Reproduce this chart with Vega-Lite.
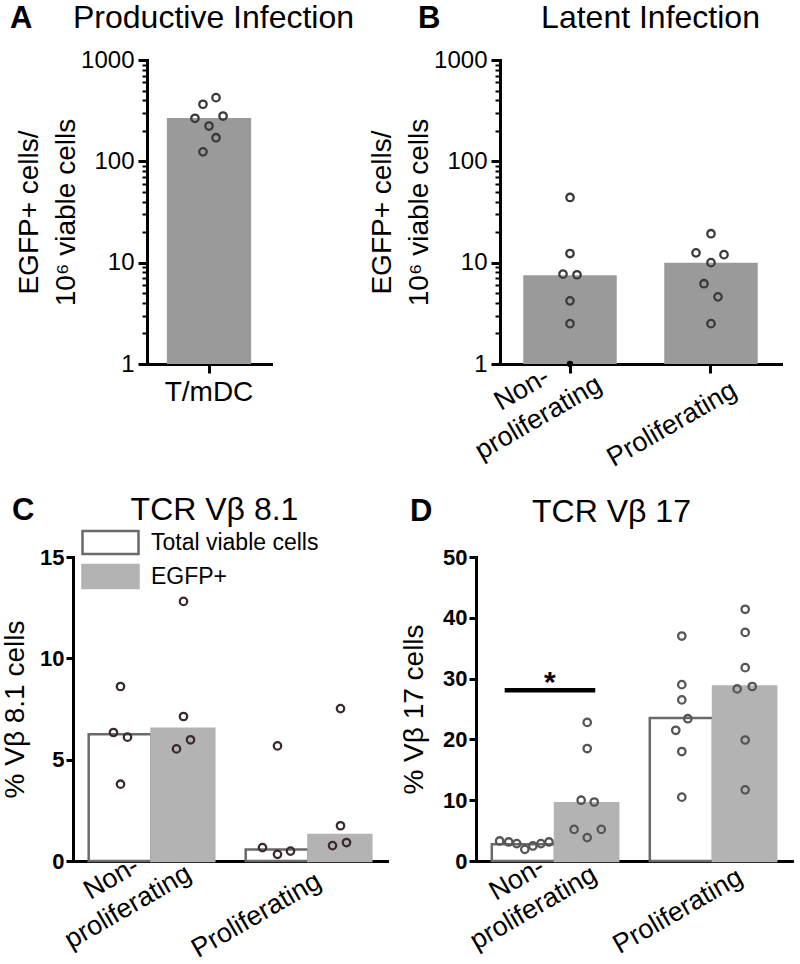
{
  "$schema": "https://vega.github.io/schema/vega-lite/v6.json",
  "padding": {"left": 1, "top": 1, "right": 5, "bottom": 5},
  "background": "white",
  "config": {
    "font": "Liberation Sans",
    "view": {"stroke": null},
    "axis": {"domainColor": "black", "domainWidth": 3, "domainCap": "square", "tickColor": "black", "tickWidth": 3, "labelColor": "black", "titleColor": "black", "grid": false, "labelFont": "Liberation Sans", "titleFont": "Liberation Sans", "titleFontWeight": "normal"},
    "title": {"font": "Liberation Sans", "color": "black"},
    "legend": {"labelFont": "Liberation Sans", "labelColor": "black"}
  },
  "datasets": {
    "aBar": [{"group": "T/mDC", "value": 267}],
    "aPts": [
      {"group": "T/mDC", "value": 266, "jitter": -14},
      {"group": "T/mDC", "value": 366, "jitter": -6},
      {"group": "T/mDC", "value": 425, "jitter": 7},
      {"group": "T/mDC", "value": 280, "jitter": 14},
      {"group": "T/mDC", "value": 223, "jitter": 0},
      {"group": "T/mDC", "value": 171, "jitter": 7},
      {"group": "T/mDC", "value": 124, "jitter": -6}
    ],
    "bBar": [{"group": "Non-proliferating", "value": 7.5}, {"group": "Proliferating", "value": 10}],
    "bPts": [
      {"group": "Non-proliferating", "value": 44, "jitter": 0},
      {"group": "Non-proliferating", "value": 12.3, "jitter": 0},
      {"group": "Non-proliferating", "value": 7.7, "jitter": -7},
      {"group": "Non-proliferating", "value": 7.6, "jitter": 7},
      {"group": "Non-proliferating", "value": 4.2, "jitter": 0},
      {"group": "Non-proliferating", "value": 2.5, "jitter": 0},
      {"group": "Proliferating", "value": 19.3, "jitter": 0},
      {"group": "Proliferating", "value": 12.5, "jitter": -15},
      {"group": "Proliferating", "value": 12, "jitter": 13},
      {"group": "Proliferating", "value": 10, "jitter": 0},
      {"group": "Proliferating", "value": 6.2, "jitter": -7},
      {"group": "Proliferating", "value": 4.6, "jitter": 7},
      {"group": "Proliferating", "value": 2.5, "jitter": 0}
    ],
    "bZero": [{"group": "Non-proliferating", "value": 1, "jitter": 0}],
    "cBar": [
      {"group": "Non-proliferating", "series": "Total viable cells", "value": 6.25},
      {"group": "Non-proliferating", "series": "EGFP+", "value": 6.52},
      {"group": "Proliferating", "series": "Total viable cells", "value": 0.57},
      {"group": "Proliferating", "series": "EGFP+", "value": 1.28}
    ],
    "cPts": [
      {"group": "Non-proliferating", "series": "Total viable cells", "value": 8.61, "pos": -31},
      {"group": "Non-proliferating", "series": "Total viable cells", "value": 6.34, "pos": -38},
      {"group": "Non-proliferating", "series": "Total viable cells", "value": 6.11, "pos": -24},
      {"group": "Non-proliferating", "series": "Total viable cells", "value": 3.79, "pos": -31},
      {"group": "Non-proliferating", "series": "EGFP+", "value": 12.81, "pos": 32},
      {"group": "Non-proliferating", "series": "EGFP+", "value": 7.13, "pos": 32},
      {"group": "Non-proliferating", "series": "EGFP+", "value": 5.98, "pos": 39},
      {"group": "Non-proliferating", "series": "EGFP+", "value": 5.53, "pos": 25},
      {"group": "Proliferating", "series": "Total viable cells", "value": 5.68, "pos": -31},
      {"group": "Proliferating", "series": "Total viable cells", "value": 0.66, "pos": -46},
      {"group": "Proliferating", "series": "Total viable cells", "value": 0.33, "pos": -31},
      {"group": "Proliferating", "series": "Total viable cells", "value": 0.49, "pos": -18},
      {"group": "Proliferating", "series": "EGFP+", "value": 7.52, "pos": 32},
      {"group": "Proliferating", "series": "EGFP+", "value": 1.74, "pos": 32},
      {"group": "Proliferating", "series": "EGFP+", "value": 0.76, "pos": 24},
      {"group": "Proliferating", "series": "EGFP+", "value": 0.91, "pos": 38}
    ],
    "dBar": [
      {"group": "Non-proliferating", "series": "Total viable cells", "value": 2.75},
      {"group": "Non-proliferating", "series": "EGFP+", "value": 9.5},
      {"group": "Proliferating", "series": "Total viable cells", "value": 23.5},
      {"group": "Proliferating", "series": "EGFP+", "value": 28.7}
    ],
    "dPts": [
      {"group": "Non-proliferating", "series": "Total viable cells", "value": 3.3, "pos": -55},
      {"group": "Non-proliferating", "series": "Total viable cells", "value": 3.13, "pos": -46},
      {"group": "Non-proliferating", "series": "Total viable cells", "value": 2.86, "pos": -38},
      {"group": "Non-proliferating", "series": "Total viable cells", "value": 1.92, "pos": -30},
      {"group": "Non-proliferating", "series": "Total viable cells", "value": 2.47, "pos": -22},
      {"group": "Non-proliferating", "series": "Total viable cells", "value": 2.86, "pos": -14},
      {"group": "Non-proliferating", "series": "Total viable cells", "value": 3.13, "pos": -6},
      {"group": "Non-proliferating", "series": "EGFP+", "value": 22.8, "pos": 32},
      {"group": "Non-proliferating", "series": "EGFP+", "value": 18.5, "pos": 32},
      {"group": "Non-proliferating", "series": "EGFP+", "value": 10.0, "pos": 26},
      {"group": "Non-proliferating", "series": "EGFP+", "value": 9.7, "pos": 39},
      {"group": "Non-proliferating", "series": "EGFP+", "value": 5.2, "pos": 19},
      {"group": "Non-proliferating", "series": "EGFP+", "value": 5.2, "pos": 46},
      {"group": "Non-proliferating", "series": "EGFP+", "value": 3.85, "pos": 32},
      {"group": "Proliferating", "series": "Total viable cells", "value": 37.0, "pos": -31},
      {"group": "Proliferating", "series": "Total viable cells", "value": 29.0, "pos": -31},
      {"group": "Proliferating", "series": "Total viable cells", "value": 26.5, "pos": -31},
      {"group": "Proliferating", "series": "Total viable cells", "value": 23.4, "pos": -25},
      {"group": "Proliferating", "series": "Total viable cells", "value": 21.5, "pos": -37},
      {"group": "Proliferating", "series": "Total viable cells", "value": 18.0, "pos": -31},
      {"group": "Proliferating", "series": "Total viable cells", "value": 10.5, "pos": -31},
      {"group": "Proliferating", "series": "EGFP+", "value": 41.4, "pos": 32},
      {"group": "Proliferating", "series": "EGFP+", "value": 37.6, "pos": 32},
      {"group": "Proliferating", "series": "EGFP+", "value": 31.8, "pos": 32},
      {"group": "Proliferating", "series": "EGFP+", "value": 28.3, "pos": 24},
      {"group": "Proliferating", "series": "EGFP+", "value": 28.7, "pos": 39},
      {"group": "Proliferating", "series": "EGFP+", "value": 19.9, "pos": 32},
      {"group": "Proliferating", "series": "EGFP+", "value": 11.7, "pos": 32}
    ],
    "dSig": [
      {"group": "Non-proliferating", "pos": -50, "value": 28.1},
      {"group": "Non-proliferating", "pos": 40, "value": 28.1}
    ],
    "dStar": [{"group": "Non-proliferating", "pos": -5, "value": 29.2, "label": "*"}]
  },
  "resolve": {"scale": {"fill": "independent", "stroke": "independent"}},
  "vconcat": [
    {
      "spacing": 14,
      "hconcat": [
        {
          "width": 198, "height": 304,
          "title": {"text": "A", "anchor": "start", "frame": "group", "dx": -63, "dy": 58, "offset": 0, "baseline": "alphabetic", "fontSize": 31, "fontWeight": "bold"},
          "layer": [
            {
              "data": {"name": "aBar"},
              "mark": {"type": "bar", "color": "#9a9a9a"},
              "encoding": {
                "x": {"field": "group", "type": "nominal", "scale": {"range": [74, 198], "paddingInner": 0.32, "paddingOuter": 0.16},
                  "axis": {"title": null, "labelAngle": 0, "labelFontSize": 28, "tickSize": 9, "labelPadding": 5}},
                "y": {"field": "value", "type": "quantitative", "scale": {"type": "log", "domain": [1, 1000], "nice": false},
                  "axis": {"offset": -74, "values": [1, 10, 100, 1000], "format": "d", "tickSize": 9, "labelFontSize": 24, "labelPadding": 4, "title": ["EGFP+ cells/", "10⁶ viable cells"], "titleFontSize": 28, "titleLineHeight": 37, "titlePadding": 0}},
                "y2": {"datum": 1}
              }
            },
            {
              "data": {"name": "aPts"},
              "mark": {"type": "point", "filled": false, "stroke": "#3a3a3a", "strokeWidth": 2.3, "size": 55, "opacity": 1},
              "encoding": {
                "x": {"field": "group", "type": "nominal",
                  "axis": {"orient": "top", "title": "Productive Infection", "labels": false, "ticks": false, "domain": false, "titleFontSize": 32, "titleX": 140, "titleY": -33, "titleBaseline": "alphabetic", "titleAlign": "center"}},
                "xOffset": {"field": "jitter", "type": "quantitative", "scale": {"domain": [-42, 42]}},
                "y": {"field": "value", "type": "quantitative",
                  "axis": {"orient": "left", "offset": -74, "values": [2, 3, 4, 5, 6, 7, 8, 9, 20, 30, 40, 50, 60, 70, 80, 90, 200, 300, 400, 500, 600, 700, 800, 900], "labels": false, "domain": false, "tickSize": 5, "tickWidth": 2, "title": null}}
              }
            }
          ],
          "resolve": {"scale": {"xOffset": "independent"}, "axis": {"x": "independent", "y": "independent"}}
        },
        {
          "width": 281, "height": 304,
          "title": {"text": "B", "anchor": "start", "frame": "group", "dx": -82, "dy": 58, "offset": 0, "baseline": "alphabetic", "fontSize": 31, "fontWeight": "bold"},
          "layer": [
            {
              "data": {"name": "bBar"},
              "mark": {"type": "bar", "color": "#9a9a9a"},
              "encoding": {
                "x": {"field": "group", "type": "nominal", "scale": {"domain": ["Non-proliferating", "Proliferating"], "paddingInner": 0.337, "paddingOuter": 0.165},
                  "axis": {"title": null, "labelAngle": -30, "labelAlign": "center", "labelBaseline": "bottom", "labelFontSize": 27, "labelLineHeight": 33, "tickSize": 9,
                    "labelPadding": {"condition": {"test": "datum.value == 'Proliferating'", "value": 63}, "value": 28},
                    "labelOffset": {"condition": {"test": "datum.value == 'Proliferating'", "value": -32}, "value": -41},
                    "labelExpr": "datum.value == 'Non-proliferating' ? ['Non-    ', 'proliferating'] : datum.value"}},
                "y": {"field": "value", "type": "quantitative", "scale": {"type": "log", "domain": [1, 1000], "nice": false},
                  "axis": {"values": [1, 10, 100, 1000], "format": "d", "tickSize": 9, "labelFontSize": 24, "labelPadding": 4, "title": ["EGFP+ cells/", "10⁶ viable cells"], "titleFontSize": 28, "titleLineHeight": 37, "titlePadding": 0}},
                "y2": {"datum": 1}
              }
            },
            {
              "data": {"name": "bPts"},
              "mark": {"type": "point", "filled": false, "stroke": "#3a3a3a", "strokeWidth": 2.3, "size": 55, "opacity": 1},
              "encoding": {
                "x": {"field": "group", "type": "nominal",
                  "axis": {"orient": "top", "title": "Latent Infection", "labels": false, "ticks": false, "domain": false, "titleFontSize": 32, "titleX": 150, "titleY": -33, "titleBaseline": "alphabetic", "titleAlign": "center"}},
                "xOffset": {"field": "jitter", "type": "quantitative", "scale": {"domain": [-46.75, 46.75]}},
                "y": {"field": "value", "type": "quantitative",
                  "axis": {"orient": "left", "values": [2, 3, 4, 5, 6, 7, 8, 9, 20, 30, 40, 50, 60, 70, 80, 90, 200, 300, 400, 500, 600, 700, 800, 900], "labels": false, "domain": false, "tickSize": 5, "tickWidth": 2, "title": null}}
              }
            },
            {
              "data": {"name": "bZero"},
              "mark": {"type": "point", "filled": true, "color": "black", "size": 40, "opacity": 1},
              "encoding": {
                "x": {"field": "group", "type": "nominal", "axis": null},
                "xOffset": {"field": "jitter", "type": "quantitative", "scale": {"domain": [-46.75, 46.75]}},
                "y": {"field": "value", "type": "quantitative", "axis": null}
              }
            }
          ],
          "resolve": {"scale": {"xOffset": "independent"}, "axis": {"x": "independent", "y": "independent"}}
        }
      ]
    },
    {
      "spacing": 13,
      "resolve": {"scale": {"fill": "independent", "stroke": "independent"}},
      "hconcat": [
        {
          "width": 314, "height": 304,
          "title": {"text": "C", "anchor": "start", "frame": "group", "dx": -61, "dy": 58, "offset": 0, "baseline": "alphabetic", "fontSize": 31, "fontWeight": "bold"},
          "layer": [
            {
              "data": {"name": "cBar"},
              "mark": {"type": "bar", "strokeWidth": 2.5},
              "encoding": {
                "x": {"field": "group", "type": "nominal", "scale": {"domain": ["Non-proliferating", "Proliferating"], "paddingInner": 0.2, "paddingOuter": 0.1},
                  "axis": {"title": null, "ticks": false, "labelAngle": -30, "labelAlign": "center", "labelBaseline": "bottom", "labelFontSize": 27, "labelLineHeight": 33,
                    "labelPadding": {"condition": {"test": "datum.value == 'Proliferating'", "value": 66}, "value": 29},
                    "labelOffset": {"condition": {"test": "datum.value == 'Proliferating'", "value": -45}, "value": -33},
                    "labelExpr": "datum.value == 'Non-proliferating' ? ['Non-        ', 'proliferating'] : datum.value"}},
                "xOffset": {"field": "series", "type": "nominal", "scale": {"domain": ["Total viable cells", "EGFP+"], "paddingInner": 0, "paddingOuter": 0}},
                "y": {"field": "value", "type": "quantitative", "scale": {"domain": [0, 15], "nice": false},
                  "axis": {"values": [0, 5, 10, 15], "tickSize": 7, "labelFontSize": 22, "labelFontWeight": "bold", "labelPadding": 2, "title": "% Vβ 8.1 cells", "titleFontSize": 28, "titlePadding": 10}},
                "fill": {"field": "series", "type": "nominal", "scale": {"domain": ["Total viable cells", "EGFP+"], "range": ["white", "#b3b3b3"]},
                  "legend": {"title": null, "orient": "none", "legendX": 22, "legendY": -30, "padding": 0, "symbolType": "M-2,-0.82L2,-0.82L2,0.82L-2,0.82Z", "symbolSize": 784, "symbolStrokeWidth": 2.5, "labelFontSize": 23, "labelOffset": 25, "labelLimit": 400, "rowPadding": 1,
                    "labelExpr": "datum.label == 'EGFP+' ? ' EGFP+' : datum.label"}},
                "stroke": {"field": "series", "type": "nominal", "scale": {"domain": ["Total viable cells", "EGFP+"], "range": ["#6a6a6a", "#b3b3b3"]}}
              }
            },
            {
              "data": {"name": "cPts"},
              "mark": {"type": "point", "filled": false, "stroke": "#3a2a2e", "strokeWidth": 2.3, "size": 55, "opacity": 1},
              "encoding": {
                "x": {"field": "group", "type": "nominal",
                  "axis": {"orient": "top", "title": "TCR Vβ 8.1", "labels": false, "ticks": false, "domain": false, "titleFontSize": 32, "titleX": 141, "titleY": -38, "titleBaseline": "alphabetic", "titleAlign": "center"}},
                "xOffset": {"field": "pos", "type": "quantitative", "scale": {"domain": [-62.8, 62.8]}},
                "y": {"field": "value", "type": "quantitative", "axis": null}
              }
            }
          ],
          "resolve": {"scale": {"xOffset": "independent"}, "axis": {"x": "independent", "y": "independent"}}
        },
        {
          "width": 316, "height": 304,
          "title": {"text": "D", "anchor": "start", "frame": "group", "dx": -66, "dy": 57, "offset": 0, "baseline": "alphabetic", "fontSize": 31, "fontWeight": "bold"},
          "layer": [
            {
              "data": {"name": "dBar"},
              "mark": {"type": "bar", "strokeWidth": 2.5},
              "encoding": {
                "x": {"field": "group", "type": "nominal", "scale": {"domain": ["Non-proliferating", "Proliferating"], "paddingInner": 0.2, "paddingOuter": 0.1},
                  "axis": {"title": null, "ticks": false, "labelAngle": -30, "labelAlign": "center", "labelBaseline": "bottom", "labelFontSize": 27, "labelLineHeight": 33,
                    "labelPadding": {"condition": {"test": "datum.value == 'Proliferating'", "value": 62}, "value": 30},
                    "labelOffset": {"condition": {"test": "datum.value == 'Proliferating'", "value": -28}, "value": -31},
                    "labelExpr": "datum.value == 'Non-proliferating' ? ['Non-    ', 'proliferating'] : datum.value"}},
                "xOffset": {"field": "series", "type": "nominal", "scale": {"domain": ["Total viable cells", "EGFP+"], "paddingInner": 0, "paddingOuter": 0}},
                "y": {"field": "value", "type": "quantitative", "scale": {"domain": [0, 50], "nice": false},
                  "axis": {"values": [0, 10, 20, 30, 40, 50], "tickSize": 7, "labelFontSize": 22, "labelFontWeight": "bold", "labelPadding": 2, "title": "% Vβ 17 cells", "titleFontSize": 28, "titlePadding": 14}},
                "fill": {"field": "series", "type": "nominal", "scale": {"domain": ["Total viable cells", "EGFP+"], "range": ["white", "#b3b3b3"]}, "legend": null},
                "stroke": {"field": "series", "type": "nominal", "scale": {"domain": ["Total viable cells", "EGFP+"], "range": ["#6a6a6a", "#b3b3b3"]}, "legend": null}
              }
            },
            {
              "data": {"name": "dPts"},
              "mark": {"type": "point", "filled": false, "stroke": "#555555", "strokeWidth": 2.3, "size": 55, "opacity": 1},
              "encoding": {
                "x": {"field": "group", "type": "nominal",
                  "axis": {"orient": "top", "title": "TCR Vβ 17", "labels": false, "ticks": false, "domain": false, "titleFontSize": 32, "titleX": 135, "titleY": -36, "titleBaseline": "alphabetic", "titleAlign": "center"}},
                "xOffset": {"field": "pos", "type": "quantitative", "scale": {"domain": [-62.8, 62.8]}},
                "y": {"field": "value", "type": "quantitative", "axis": null}
              }
            },
            {
              "data": {"name": "dSig"},
              "mark": {"type": "line", "color": "black", "strokeWidth": 4.5, "strokeCap": "butt"},
              "encoding": {
                "x": {"field": "group", "type": "nominal", "axis": null},
                "xOffset": {"field": "pos", "type": "quantitative", "scale": {"domain": [-62.8, 62.8]}},
                "y": {"field": "value", "type": "quantitative", "axis": null}
              }
            },
            {
              "data": {"name": "dStar"},
              "mark": {"type": "text", "color": "black", "fontSize": 30, "fontWeight": "bold", "baseline": "middle", "align": "center"},
              "encoding": {
                "x": {"field": "group", "type": "nominal", "axis": null},
                "xOffset": {"field": "pos", "type": "quantitative", "scale": {"domain": [-62.8, 62.8]}},
                "y": {"field": "value", "type": "quantitative", "axis": null},
                "text": {"field": "label"}
              }
            }
          ],
          "resolve": {"scale": {"xOffset": "independent"}, "axis": {"x": "independent", "y": "independent"}}
        }
      ]
    }
  ],
  "spacing": 21
}
